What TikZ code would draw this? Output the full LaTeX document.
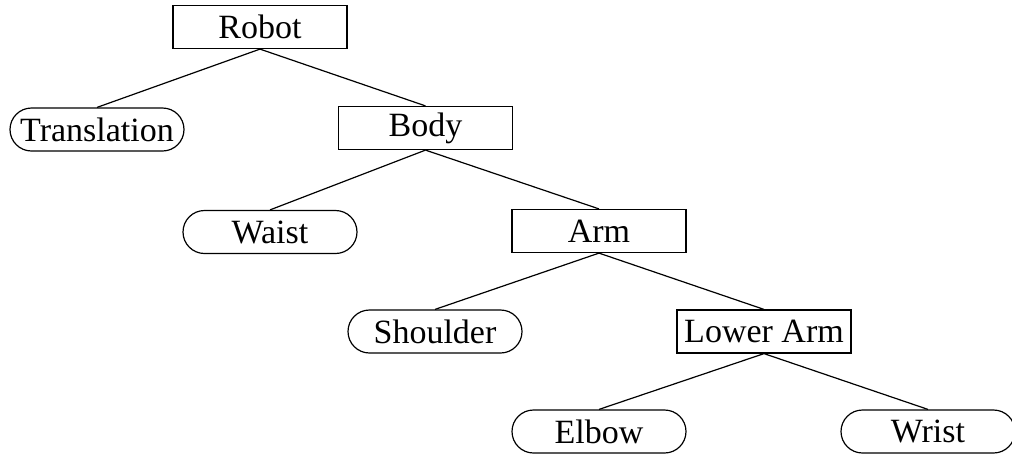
\documentclass[tikz,border=0pt]{standalone}
\usepackage{fontspec}
\setmainfont{Liberation Serif}
\usepackage{tikz}
\usetikzlibrary{shapes.misc}
\tikzset{
    % Thin plain lines everywhere
    tree line/.style={line width=0.6pt},
%
    % A square box for a part that has parts of its own
    part box/.style={
        draw, line width=0.6pt, rectangle, inner sep=0pt,
        minimum width=87pt, minimum height=21.5pt},
%
    % A rounded box for a part at the end of the tree
    leaf box/.style={
        draw, line width=0.6pt, rounded rectangle, inner sep=0pt,
        minimum width=87pt, minimum height=21.5pt}}

\begin{document}
\begin{tikzpicture}[x=0.5pt, y=-0.5pt,
    every node/.style={font=\fontsize{17}{20}\selectfont}]

\useasboundingbox (0,0) rectangle (1012,456);

\node (robot) [part box] at (260,27) {Robot};
\node (translation) [leaf box] at (97,129.5) {Translation};
\node (body) [part box] at (425.5,128) {Body};
\node (waist) [leaf box] at (270,232) {Waist};
\node (arm) [part box] at (599,231) {Arm};
\node (shoulder) [leaf box] at (435,331.5) {Shoulder};
\node (lowerarm) [part box] at (764,331.5) {Lower Arm};
\node (elbow) [leaf box] at (599,431.5) {Elbow};
\node (wrist) [leaf box] at (928,431.5) {Wrist};

\draw [tree line] (robot.south) -- (translation.north);
\draw [tree line] (robot.south) -- (body.north);
\draw [tree line] (body.south) -- (waist.north);
\draw [tree line] (body.south) -- (arm.north);
\draw [tree line] (arm.south) -- (shoulder.north);
\draw [tree line] (arm.south) -- (lowerarm.north);
\draw [tree line] (lowerarm.south) -- (elbow.north);
\draw [tree line] (lowerarm.south) -- (wrist.north);

\end{tikzpicture}
\end{document}
